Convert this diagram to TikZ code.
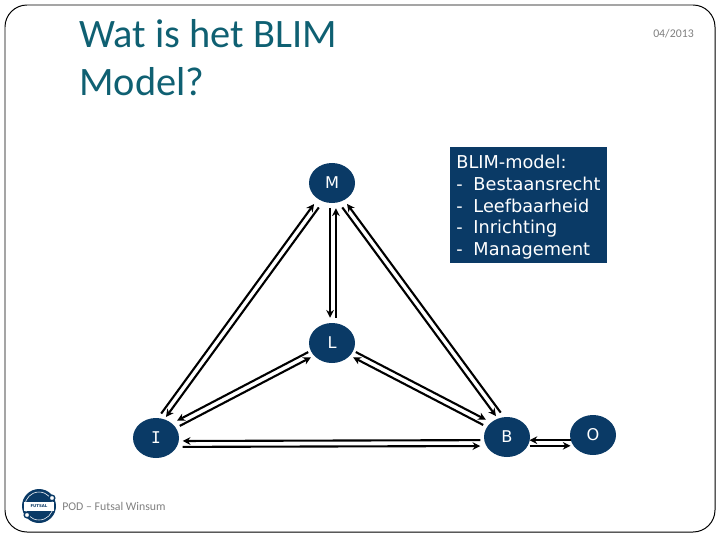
\documentclass[tikz,border=0pt]{standalone}
\usepackage{fontspec}
\usepackage{tikz}
\usetikzlibrary{calc,arrows.meta,shapes.geometric}
\setmainfont{DejaVu Sans}
\newfontfamily\titlefont{Carlito}
\newfontfamily\monofont{DejaVu Sans Mono}
\definecolor{blimblue}{HTML}{0A3A66}
\definecolor{blimteal}{HTML}{0F6072}
\definecolor{blimgray}{HTML}{7F7F7F}

\begin{document}
\begin{tikzpicture}
		[
			x=0.025cm, y=-0.025cm,
			bnode/.style = {ellipse, align=center, fill=blimblue, text=white, inner sep=0pt, minimum width=1.15cm, minimum height=1.0cm, font=\fontsize{11.5}{14}\selectfont},
			legend/.style = {rectangle, align=left, fill=blimblue, text=white, inner sep=0pt, minimum width=3.925cm, minimum height=2.9cm, font=\fontsize{12.6}{15.3}\selectfont},
			foot/.style = {text=blimgray, inner sep=0pt, font=\titlefont\fontsize{8.4}{10}\selectfont},
			link/.style = {draw=black, line width=1.5pt, -{Stealth[length=5.5pt,width=5.5pt]}},
		]
		\useasboundingbox (0,0) rectangle (720,540);

		% frame
		\draw[black, line width=0.7pt, rounded corners=0.55cm] (5,5) rectangle (715,532);

		% title and footer
		\node[anchor=north west, inner sep=0pt, align=left, text=blimteal, font=\titlefont\fontsize{28.7}{34.1}\selectfont] (title) at (79,19) {Wat is het BLIM\\Model?};
		\node[foot, anchor=east] (date) at (694,33.5) {04/2013};
		\node[foot, anchor=west] (pod) at (62,506) {POD – Futsal Winsum};

		% logo
		\fill[blimblue] (39,506) circle (17);
		\draw[white, line width=0.4pt] (39,506) circle (14);
		\fill[white] (24,502) rectangle (54,511);
		\node[inner sep=0pt, font=\fontsize{2.8}{3}\selectfont\bfseries, text=blimblue] (logotext) at (39,506.5) {FUTSAL};
		\filldraw[fill=white, draw=blimblue, line width=1pt] (52,498) circle (2.8);
		\filldraw[fill=white, draw=blimblue, line width=1pt] (27,515) circle (2.8);

		% letters
		\node[bnode] (m) at (332,183) {M};
		\node[bnode] (l) at (332,343) {L};
		\node[bnode] (i) at (156,438) {\monofont I};
		\node[bnode] (b) at (507,437) {B};
		\node[bnode] (o) at (593,435) {O};

		\node[legend] (blim) at (528.5,205) {\rule{0pt}{12.6pt}BLIM-model:\\-\hspace{0.6em}Bestaansrecht\\-\hspace{0.6em}Leefbaarheid\\-\hspace{0.6em}Inrichting\\-\hspace{0.6em}Management};

		% link ends, they do not all aim at the middle of a letter
		\coordinate (ml) at ($(m)+(1,0)$);
		\coordinate (lm) at ($(l)+(1,0)$);
		\coordinate (mb) at ($(m)+(-4,0)$);
		\coordinate (bm) at ($(b)+(8,0)$);
		\coordinate (mi) at ($(m)+(1,0)$);
		\coordinate (im) at ($(i)+(-9,0)$);
		\coordinate (il) at ($(i)+(0,-3)$);
		\coordinate (bl) at ($(b)+(0,-3)$);
		\coordinate (ib) at ($(i)+(0,6)$);
		\coordinate (bi) at ($(b)+(0,6)$);
		\coordinate (bo) at ($(b)+(0,6)$);
		\coordinate (ob) at ($(o)+(0,8)$);

		\foreach \from/\to/\side/\gap in {ml/lm/-2.1pt/18pt,lm/ml/-2.1pt/18pt,
			mb/bm/-2.1pt/20pt,bm/mb/-2.1pt/20pt,il/l/-2.1pt/18pt,l/il/-2.1pt/18pt,
			ib/bi/-2.1pt/19pt,bi/ib/-2.1pt/19pt,bo/ob/-2pt/16pt,ob/bo/-2pt/16pt,
			im/mi/2.1pt/20pt,mi/im/2.1pt/20pt,l/bl/2.1pt/18pt,bl/l/2.1pt/18pt}
		\draw[link, shorten <=\gap, shorten >=\gap] ($(\from)!\side!90:(\to)$) -- ($(\to)!\side!-90:(\from)$);

		\end{tikzpicture}
\end{document}
